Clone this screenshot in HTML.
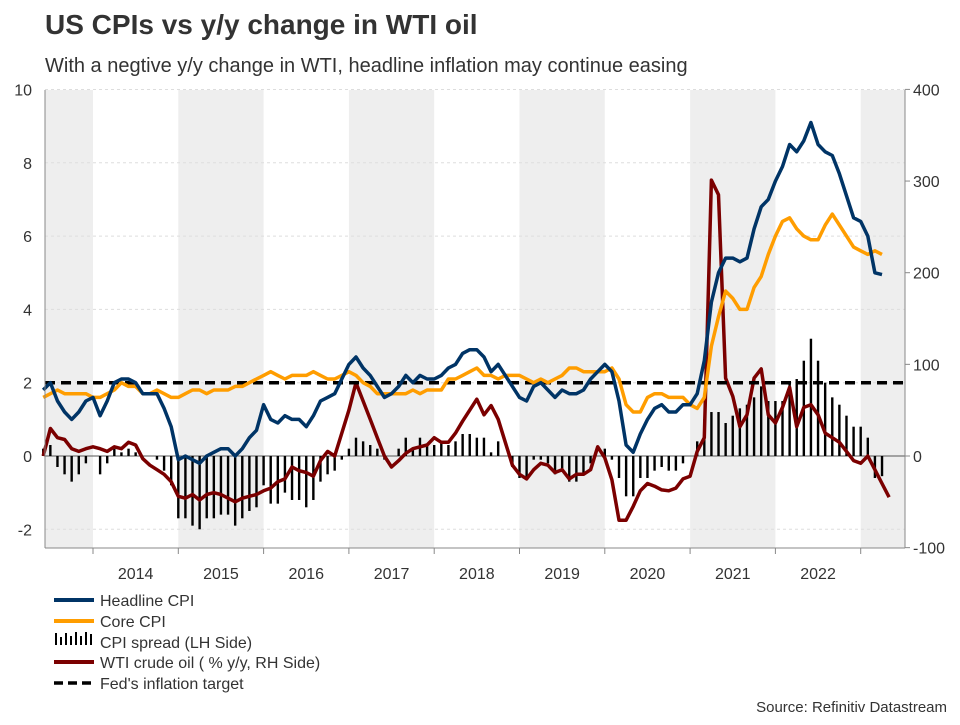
<!DOCTYPE html>
<html><head><meta charset="utf-8"><style>
body{margin:0;background:#fff;font-family:"Liberation Sans",sans-serif;}
svg text{font-family:"Liberation Sans",sans-serif;}
</style></head><body>
<svg id="c" width="960" height="720" viewBox="0 0 960 720">
<text x="45" y="34" font-size="28" font-weight="bold" fill="#333">US CPIs vs y/y change in WTI oil</text>
<text x="45" y="72" font-size="20" fill="#333">With a negtive y/y change in WTI, headline inflation may continue easing</text>
<g id="bands"></g><g id="grid"></g><g id="bars"></g><g id="lines"></g><g id="axes"></g>
<g font-size="16" fill="#333">
<line x1="54" y1="600" x2="94" y2="600" stroke="#003466" stroke-width="4"/><text x="100" y="606">Headline CPI</text>
<line x1="54" y1="621" x2="94" y2="621" stroke="#FF9D00" stroke-width="4"/><text x="100" y="627">Core CPI</text>
<g stroke="#000" stroke-width="2"><line x1="56" y1="645" x2="56" y2="633"/><line x1="61" y1="645" x2="61" y2="637"/><line x1="66" y1="645" x2="66" y2="633"/><line x1="71" y1="645" x2="71" y2="636"/><line x1="76" y1="645" x2="76" y2="632"/><line x1="81" y1="645" x2="81" y2="636"/><line x1="86" y1="645" x2="86" y2="632"/><line x1="91" y1="645" x2="91" y2="634"/></g><text x="100" y="648">CPI spread (LH Side)</text>
<line x1="54" y1="662" x2="94" y2="662" stroke="#7B0000" stroke-width="4"/><text x="100" y="668">WTI crude oil ( % y/y, RH Side)</text>
<line x1="54" y1="683" x2="94" y2="683" stroke="#000" stroke-width="3.5" stroke-dasharray="9,5"/><text x="100" y="689">Fed's inflation target</text>
</g>
<text x="947" y="712" font-size="15" fill="#333" text-anchor="end">Source: Refinitiv Datastream</text>
</svg>
<script>
const startYear = 2013, startMonth = 6;
const headline = [1.8,2.0,1.5,1.2,1.0,1.2,1.5,
1.6,1.1,1.5,2.0,2.1,2.1,2.0,1.7,1.7,1.7,1.3,0.8,
-0.1,0.0,-0.1,-0.2,0.0,0.1,0.2,0.2,0.0,0.2,0.5,0.7,
1.4,1.0,0.9,1.1,1.0,1.0,0.8,1.1,1.5,1.6,1.7,2.1,
2.5,2.7,2.4,2.2,1.9,1.6,1.7,1.9,2.2,2.0,2.2,2.1,
2.1,2.2,2.4,2.5,2.8,2.9,2.9,2.7,2.3,2.5,2.2,1.9,
1.6,1.5,1.9,2.0,1.8,1.6,1.8,1.7,1.7,1.8,2.1,2.3,
2.5,2.3,1.5,0.3,0.1,0.6,1.0,1.3,1.4,1.2,1.2,1.4,
1.4,1.7,2.6,4.2,5.0,5.4,5.4,5.3,5.4,6.2,6.8,7.0,
7.5,7.9,8.5,8.3,8.6,9.1,8.5,8.3,8.2,7.7,7.1,6.5,
6.4,6.0,5.0,4.95];
const core = [1.6,1.7,1.8,1.7,1.7,1.7,1.7,
1.6,1.6,1.7,1.8,2.0,1.9,1.9,1.7,1.7,1.8,1.7,1.6,
1.6,1.7,1.8,1.8,1.7,1.8,1.8,1.8,1.9,1.9,2.0,2.1,
2.2,2.3,2.2,2.1,2.2,2.2,2.2,2.3,2.2,2.1,2.1,2.2,
2.3,2.2,2.0,1.9,1.7,1.7,1.7,1.7,1.7,1.8,1.7,1.8,
1.8,1.8,2.1,2.1,2.2,2.3,2.4,2.2,2.2,2.1,2.2,2.2,
2.2,2.1,2.0,2.1,2.0,2.1,2.2,2.4,2.4,2.3,2.3,2.3,
2.3,2.4,2.1,1.4,1.2,1.2,1.6,1.7,1.7,1.6,1.6,1.6,
1.4,1.3,1.6,3.0,3.8,4.5,4.3,4.0,4.0,4.6,4.9,5.5,
6.0,6.4,6.5,6.2,6.0,5.9,5.9,6.3,6.6,6.3,6.0,5.7,
5.6,5.5,5.6,5.5];
const wti = [0,30,20,18,8,5,8,
10,8,5,10,8,15,12,-3,-10,-15,-20,-28,
-44,-46,-42,-48,-42,-40,-42,-46,-50,-46,-44,-42,
-38,-35,-28,-25,-12,-16,-18,-22,-5,5,0,25,
50,80,60,40,20,0,-12,-5,3,8,10,12,
20,15,15,25,38,50,62,45,55,40,15,-10,
-20,-25,-15,-8,-10,-18,-15,-25,-20,-20,-15,10,
-2,-26,-70,-70,-55,-38,-30,-33,-37,-38,-35,-25,
-22,5,20,301,285,85,65,32,45,85,95,45,
36,53,75,32,53,56,45,25,20,15,5,-5,
-8,0,-15,-30,-45];
const leftTicks = [-2,0,2,4,6,8,10];
const rightTicks = [-100,0,100,200,300,400];
const years = [2014,2015,2016,2017,2018,2019,2020,2021,2022];
const target = 2;

const X0=45,X1=905,Y0=90,Y1=548;
const xs = t => 7.7 + (t-2013)*85.3;
const tm = i => { const m = startMonth-1+i; return startYear + m/12; };
const yl = v => 456 - v*36.65;
const yr = v => 456 - v*0.9165;
const NS="http://www.w3.org/2000/svg";
function mk(p,tag,a){const e=document.createElementNS(NS,tag);for(const k in a)e.setAttribute(k,a[k]);document.getElementById(p).appendChild(e);return e;}

for(let y=2013;y<=2023;y+=2){
  const a=Math.max(X0,xs(y)), b=Math.min(X1,xs(y+1));
  const r=mk('bands','rect',{x:a,y:Y0,width:b-a,height:Y1-Y0,fill:'#eeeeee'});
  
  
}
leftTicks.forEach(v=>{
  const g=mk('grid','line',{x1:X0,x2:X1,y1:yl(v),y2:yl(v),stroke:v===0?'#555':'#ddd','stroke-width':1,'stroke-dasharray':v===0?'':'3,3'});
  
  
  const t=mk('axes','text',{x:32,y:yl(v)+6,'font-size':16,fill:'#333','text-anchor':'end'});
  t.textContent=v;
  
  
});
rightTicks.forEach(v=>{
  const t=mk('axes','text',{x:913,y:yr(v)+6,'font-size':16,fill:'#333'});
  t.textContent=v;
  
  
  mk('axes','line',{x1:X1,x2:X1+5,y1:yr(v),y2:yr(v),stroke:'#888'});
});
mk('axes','line',{x1:X0,x2:X0,y1:Y0,y2:Y1,stroke:'#888'});
mk('axes','line',{x1:X1,x2:X1,y1:Y0,y2:Y1,stroke:'#888'});
mk('axes','line',{x1:X0,x2:X1,y1:Y1,y2:Y1,stroke:'#888'});
years.forEach(y=>{
  mk('axes','line',{x1:xs(y),x2:xs(y),y1:Y1,y2:Y1+6,stroke:'#888'});
  const t=mk('axes','text',{x:xs(y+0.5),y:579,'font-size':16,fill:'#333','text-anchor':'middle'});
  t.textContent=y;
  
  
});
mk('axes','line',{x1:xs(2023),x2:xs(2023),y1:Y1,y2:Y1+6,stroke:'#888'});

headline.forEach((h,i)=>{
  if(i>=core.length) return;
  const s=h-core[i], x=xs(tm(i));
  const b=mk('bars','rect',{x:x-1.2,y:Math.min(yl(0),yl(s)),width:2.4,height:Math.abs(yl(s)-yl(0)),fill:'#000'});
  
  
});
function path(arr,yf,col,w,name){
  const d=arr.map((v,i)=>(i?'L':'M')+xs(tm(i)).toFixed(1)+','+yf(v).toFixed(1)).join('');
  const p=mk('lines','path',{d:d,fill:'none',stroke:col,'stroke-width':w,'stroke-linejoin':'round'});
  
  
}
path(wti,yr,'#7B0000',3.5,'wti-line');
const tl=mk('lines','line',{x1:X0,x2:X1,y1:yl(target),y2:yl(target),stroke:'#000','stroke-width':3.5,'stroke-dasharray':'10,6'});


path(core,yl,'#FF9D00',3.5,'core-cpi-line');
path(headline,yl,'#003466',3.5,'headline-cpi-line');
</script>
</body></html>
